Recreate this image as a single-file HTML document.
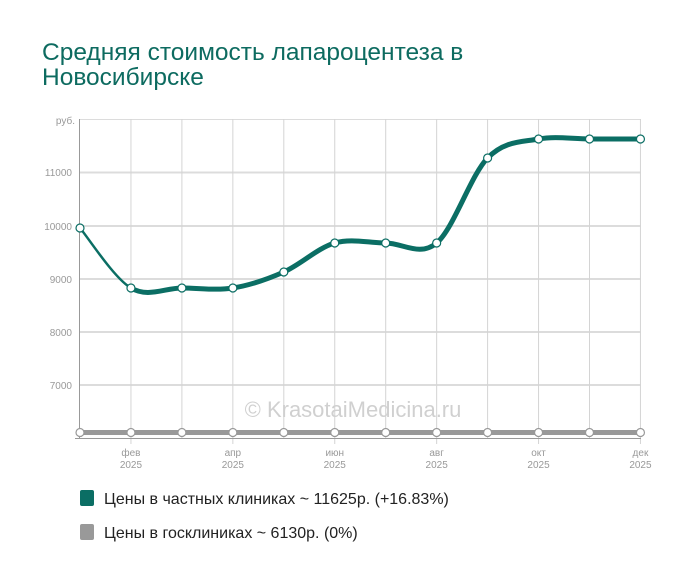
<!DOCTYPE html>
<html><head><meta charset="utf-8"><style>
body{margin:0;background:#fff;width:700px;height:582px;overflow:hidden;font-family:"Liberation Sans",sans-serif}
</style></head><body>
<svg width="700" height="582" xmlns="http://www.w3.org/2000/svg" font-family="Liberation Sans, sans-serif">
<text x="42" y="60" font-size="24.5" fill="#0d6b60">Средняя стоимость лапароцентеза в</text>
<text x="42" y="85" font-size="24.5" fill="#0d6b60">Новосибирске</text>
<g stroke="#dcdcdc" stroke-width="1">
<line x1="80" y1="119.5" x2="641" y2="119.5"/>
<line x1="80" y1="172.5" x2="641" y2="172.5" stroke-width="2"/>
<line x1="80" y1="226" x2="641" y2="226" stroke-width="2"/>
<line x1="80" y1="279" x2="641" y2="279" stroke-width="2"/>
<line x1="80" y1="332" x2="641" y2="332" stroke-width="2"/>
<line x1="80" y1="385" x2="641" y2="385" stroke-width="2"/>
</g>
<g id="vg" stroke="#d4d4d4" stroke-width="1"></g>
<line x1="79.5" y1="119" x2="79.5" y2="439" stroke="#999"/>
<line x1="75" y1="438.5" x2="641" y2="438.5" stroke="#999"/>
<g font-size="10" fill="#999" text-anchor="end">
<text x="75" y="124">руб.</text>
<text x="72" y="176">11000</text>
<text x="72" y="230">10000</text>
<text x="72" y="283">9000</text>
<text x="72" y="336">8000</text>
<text x="72" y="389">7000</text>
</g>
<g font-size="10" fill="#999" text-anchor="middle" id="xl"></g>
<text x="353" y="417" font-size="22" fill="#d0d0d0" text-anchor="middle">© KrasotaiMedicina.ru</text>
<line x1="80" y1="432.5" x2="640" y2="432.5" stroke="#999" stroke-width="5"/>
<g id="tl" fill="none" stroke="#0b6e64" stroke-linecap="round"></g>
<g id="pts"></g>
<rect x="80" y="490" width="14" height="16" rx="2" fill="#0b6e64"/>
<text x="104" y="504" font-size="16" fill="#222">Цены в частных клиниках ~ 11625р. (+16.83%)</text>
<rect x="80" y="524" width="14" height="16" rx="2" fill="#999"/>
<text x="104" y="538" font-size="16" fill="#222">Цены в госклиниках ~ 6130р. (0%)</text>
</svg>
<script>
var xs=[],ys=[228,288,288,288,272,243,243,243,158,139,139,139];
for(var i=0;i<12;i++)xs.push(80+i*50.95);
var ns="http://www.w3.org/2000/svg",vg=document.getElementById('vg'),pts=document.getElementById('pts'),xl=document.getElementById('xl'),tl=document.getElementById('tl');
var lab={1:'фев',3:'апр',5:'июн',7:'авг',9:'окт',11:'дек'};
for(var i=1;i<12;i++){var l=document.createElementNS(ns,'line');l.setAttribute('x1',xs[i]);l.setAttribute('x2',xs[i]);l.setAttribute('y1',119);l.setAttribute('y2',i%2?444:438);vg.appendChild(l);
if(lab[i]){var t=document.createElementNS(ns,'text');t.setAttribute('x',xs[i]);t.setAttribute('y',456);t.textContent=lab[i];xl.appendChild(t);t=document.createElementNS(ns,'text');t.setAttribute('x',xs[i]);t.setAttribute('y',468);t.textContent='2025';xl.appendChild(t);}}
for(var i=0;i<11;i++){var p0=i?i-1:0,p3=i+2<12?i+2:11;
var c1x=xs[i]+(xs[i+1]-xs[p0])/6,c1y=ys[i]+(ys[i+1]-ys[p0])/6,c2x=xs[i+1]-(xs[p3]-xs[i])/6,c2y=ys[i+1]-(ys[p3]-ys[i])/6;
var p=document.createElementNS(ns,'path');p.setAttribute('d','M'+xs[i]+','+ys[i]+' C'+c1x+','+c1y+' '+c2x+','+c2y+' '+xs[i+1]+','+ys[i+1]);
p.setAttribute('stroke-width',i==0?2.5:5);tl.appendChild(p);}
function c(x,y,col){var e=document.createElementNS(ns,'circle');e.setAttribute('cx',x);e.setAttribute('cy',y);e.setAttribute('r',4);e.setAttribute('fill','#fff');e.setAttribute('stroke',col);e.setAttribute('stroke-width',1.2);pts.appendChild(e);}
for(var i=0;i<12;i++){c(xs[i],432.5,'#999');c(xs[i],ys[i],'#0b6e64');}
</script>
</body></html>
